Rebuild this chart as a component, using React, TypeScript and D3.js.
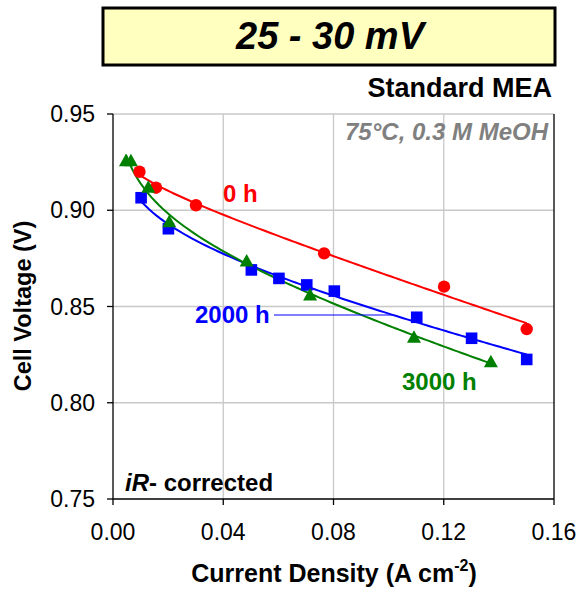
import React from "react";
import * as d3 from "d3";

// Data
const xTicks = [0, 0.04, 0.08, 0.12, 0.16];
const yTicks = [0.75, 0.8, 0.85, 0.9, 0.95];

const h0X = [0.0096, 0.0156, 0.0301, 0.0766, 0.1201, 0.1501];
const h0Y = [0.92, 0.9117, 0.9026, 0.8776, 0.8603, 0.8383];

const h2000X = [0.0102, 0.0201, 0.0502, 0.0602, 0.0703, 0.0803, 0.1102, 0.1301, 0.1501];
const h2000Y = [0.9065, 0.8904, 0.869, 0.8646, 0.8612, 0.858, 0.8444, 0.8335, 0.8225];

const h3000X = [0.0047, 0.0065, 0.0128, 0.0204, 0.0485, 0.0715, 0.1092, 0.1371];
const h3000Y = [0.9257, 0.9257, 0.912, 0.894, 0.8736, 0.856, 0.834, 0.8213];

const W = 583;
const H = 589;
const M = { left: 113, right: 554, top: 114, bottom: 499 };
const FONT = "Liberation Sans, Arial, Helvetica, sans-serif";

// least-squares fit y = a + b*x + c*ln(x)
function fit(xs: number[], ys: number[]) {
  const basis = (x: number) => [1, x, Math.log(x)];
  const A = [
    [0, 0, 0],
    [0, 0, 0],
    [0, 0, 0],
  ];
  const b = [0, 0, 0];
  xs.forEach((x, i) => {
    const f = basis(x);
    for (let r = 0; r < 3; r++) {
      b[r] += f[r] * ys[i];
      for (let c = 0; c < 3; c++) A[r][c] += f[r] * f[c];
    }
  });
  const n = 3;
  const m = A.map((row, i) => [...row, b[i]]);
  for (let i = 0; i < n; i++) {
    let p = i;
    for (let k = i + 1; k < n; k++) if (Math.abs(m[k][i]) > Math.abs(m[p][i])) p = k;
    [m[i], m[p]] = [m[p], m[i]];
    for (let k = i + 1; k < n; k++) {
      const f = m[k][i] / m[i][i];
      for (let j = i; j <= n; j++) m[k][j] -= f * m[i][j];
    }
  }
  const coef = [0, 0, 0];
  for (let i = n - 1; i >= 0; i--) {
    let s = m[i][n];
    for (let j = i + 1; j < n; j++) s -= m[i][j] * coef[j];
    coef[i] = s / m[i][i];
  }
  return (x: number) => coef[0] + coef[1] * x + coef[2] * Math.log(x);
}

const series = [
  { name: "0 h", xs: h0X, ys: h0Y, color: "#FF0000", marker: "circle" },
  { name: "2000 h", xs: h2000X, ys: h2000Y, color: "#0000FF", marker: "square" },
  { name: "3000 h", xs: h3000X, ys: h3000Y, color: "#008000", marker: "triangle" },
];

export default function App() {
  const x = d3.scaleLinear().domain([0, 0.16]).range([M.left, M.right]);
  const y = d3.scaleLinear().domain([0.75, 0.95]).range([M.bottom, M.top]);

  const curves = series.map((s) => {
    const f = fit(s.xs, s.ys);
    const x0 = d3.min(s.xs)!;
    const x1 = d3.max(s.xs)!;
    const pts = d3.range(0, 101).map((i) => {
      const xv = x0 + ((x1 - x0) * i) / 100;
      return [xv, f(xv)] as [number, number];
    });
    const line = d3
      .line<[number, number]>()
      .x((d) => x(d[0]))
      .y((d) => y(d[1]));
    return { ...s, f, d: line(pts) || "" };
  });

  // leader line for "2000 h" label: ends where the blue fit crosses the label's level
  const leaderY = 315;
  const blueF = curves[1].f;
  const target = y.invert(leaderY);
  let lo = 0.03,
    hi = 0.15;
  for (let i = 0; i < 50; i++) {
    const mid = (lo + hi) / 2;
    if (blueF(mid) > target) lo = mid;
    else hi = mid;
  }
  const leaderEnd = x((lo + hi) / 2);

  const marker = (kind: string, cx: number, cy: number, color: string, key: string) => {
    if (kind === "circle") return <circle key={key} cx={cx} cy={cy} r={6.2} fill={color} />;
    if (kind === "square")
      return <rect key={key} x={cx - 5.8} y={cy - 5.8} width={11.6} height={11.6} fill={color} />;
    return (
      <path
        key={key}
        d={`M${cx},${cy - 7} L${cx + 7},${cy + 5.5} L${cx - 7},${cy + 5.5} Z`}
        fill={color}
      />
    );
  };

  return (
    <svg
      width={W}
      height={H}
      style={{ position: "absolute", left: 0, top: 0, background: "#fff" }}
      fontFamily={FONT}
    >
      {/* title box */}
      <rect x={103} y={8} width={452} height={57} fill="#FFFFC0" stroke="#000" strokeWidth={3} />
      <text
        x={330}
        y={49}
        textAnchor="middle"
        fontSize={38}
        fontWeight="bold"
        fontStyle="italic"
        fill="#000"
      >
        25 - 30 mV
      </text>
      <text x={552} y={97} textAnchor="end" fontSize={27} fontWeight="bold" fill="#000">
        Standard MEA
      </text>

      {/* grid */}
      {xTicks.slice(1, -1).map((t) => (
        <line key={"gx" + t} x1={x(t)} x2={x(t)} y1={M.top} y2={M.bottom} stroke="#C8C8C8" strokeWidth={1.3} />
      ))}
      {yTicks.slice(1).map((t) => (
        <line key={"gy" + t} x1={M.left} x2={M.right} y1={y(t)} y2={y(t)} stroke="#C8C8C8" strokeWidth={1.3} />
      ))}

      {/* axes */}
      <line x1={M.left} x2={M.left} y1={M.top} y2={M.bottom} stroke="#000" strokeWidth={1.3} />
      <line x1={M.left} x2={M.right} y1={M.bottom} y2={M.bottom} stroke="#000" strokeWidth={1.3} />
      <line x1={M.right} x2={M.right} y1={M.top} y2={M.bottom} stroke="#000" strokeWidth={1.3} />
      {yTicks.map((t) => (
        <g key={"ty" + t}>
          <line x1={M.left - 6} x2={M.left} y1={y(t)} y2={y(t)} stroke="#000" strokeWidth={1.3} />
          <text x={95} y={y(t) + 8} textAnchor="end" fontSize={23} fill="#000">
            {t.toFixed(2)}
          </text>
        </g>
      ))}
      {xTicks.map((t) => (
        <g key={"tx" + t}>
          <line x1={x(t)} x2={x(t)} y1={M.bottom} y2={M.bottom + 6} stroke="#000" strokeWidth={1.3} />
          <text x={x(t)} y={540} textAnchor="middle" fontSize={23} fill="#000">
            {t.toFixed(2)}
          </text>
        </g>
      ))}

      {/* axis titles */}
      <text
        transform={`translate(31,${306}) rotate(-90)`}
        textAnchor="middle"
        fontSize={23.5}
        fontWeight="bold"
        fill="#000"
      >
        Cell Voltage (V)
      </text>
      <text x={334} y={582} textAnchor="middle" fontSize={25} fontWeight="bold" fill="#000">
        Current Density (A cm
        <tspan fontSize={16} dy={-11}>
          -2
        </tspan>
        <tspan dy={11}>)</tspan>
      </text>

      {/* condition labels */}
      <text x={548} y={140} textAnchor="end" fontSize={24} fontWeight="bold" fontStyle="italic" fill="#808080">
        75°C, 0.3 M MeOH
      </text>
      <text x={125} y={491} fontSize={24} fontWeight="bold" fill="#000">
        <tspan fontStyle="italic">iR</tspan>- corrected
      </text>

      {/* trend lines */}
      {curves.map((c) => (
        <path key={"c" + c.name} d={c.d} fill="none" stroke={c.color} strokeWidth={2} />
      ))}

      {/* markers */}
      {curves.map((c) =>
        c.xs.map((xv, i) => marker(c.marker, x(xv), y(c.ys[i]), c.color, c.name + i))
      )}

      {/* series labels */}
      <text x={223} y={202} fontSize={24} fontWeight="bold" fill="#FF0000">
        0 h
      </text>
      <text x={195} y={323} fontSize={24} fontWeight="bold" fill="#0000FF">
        2000 h
      </text>
      <line x1={274} x2={leaderEnd} y1={leaderY} y2={leaderY} stroke="#0000FF" strokeWidth={1} />
      <text x={402} y={390} fontSize={24} fontWeight="bold" fill="#008000">
        3000 h
      </text>
    </svg>
  );
}
